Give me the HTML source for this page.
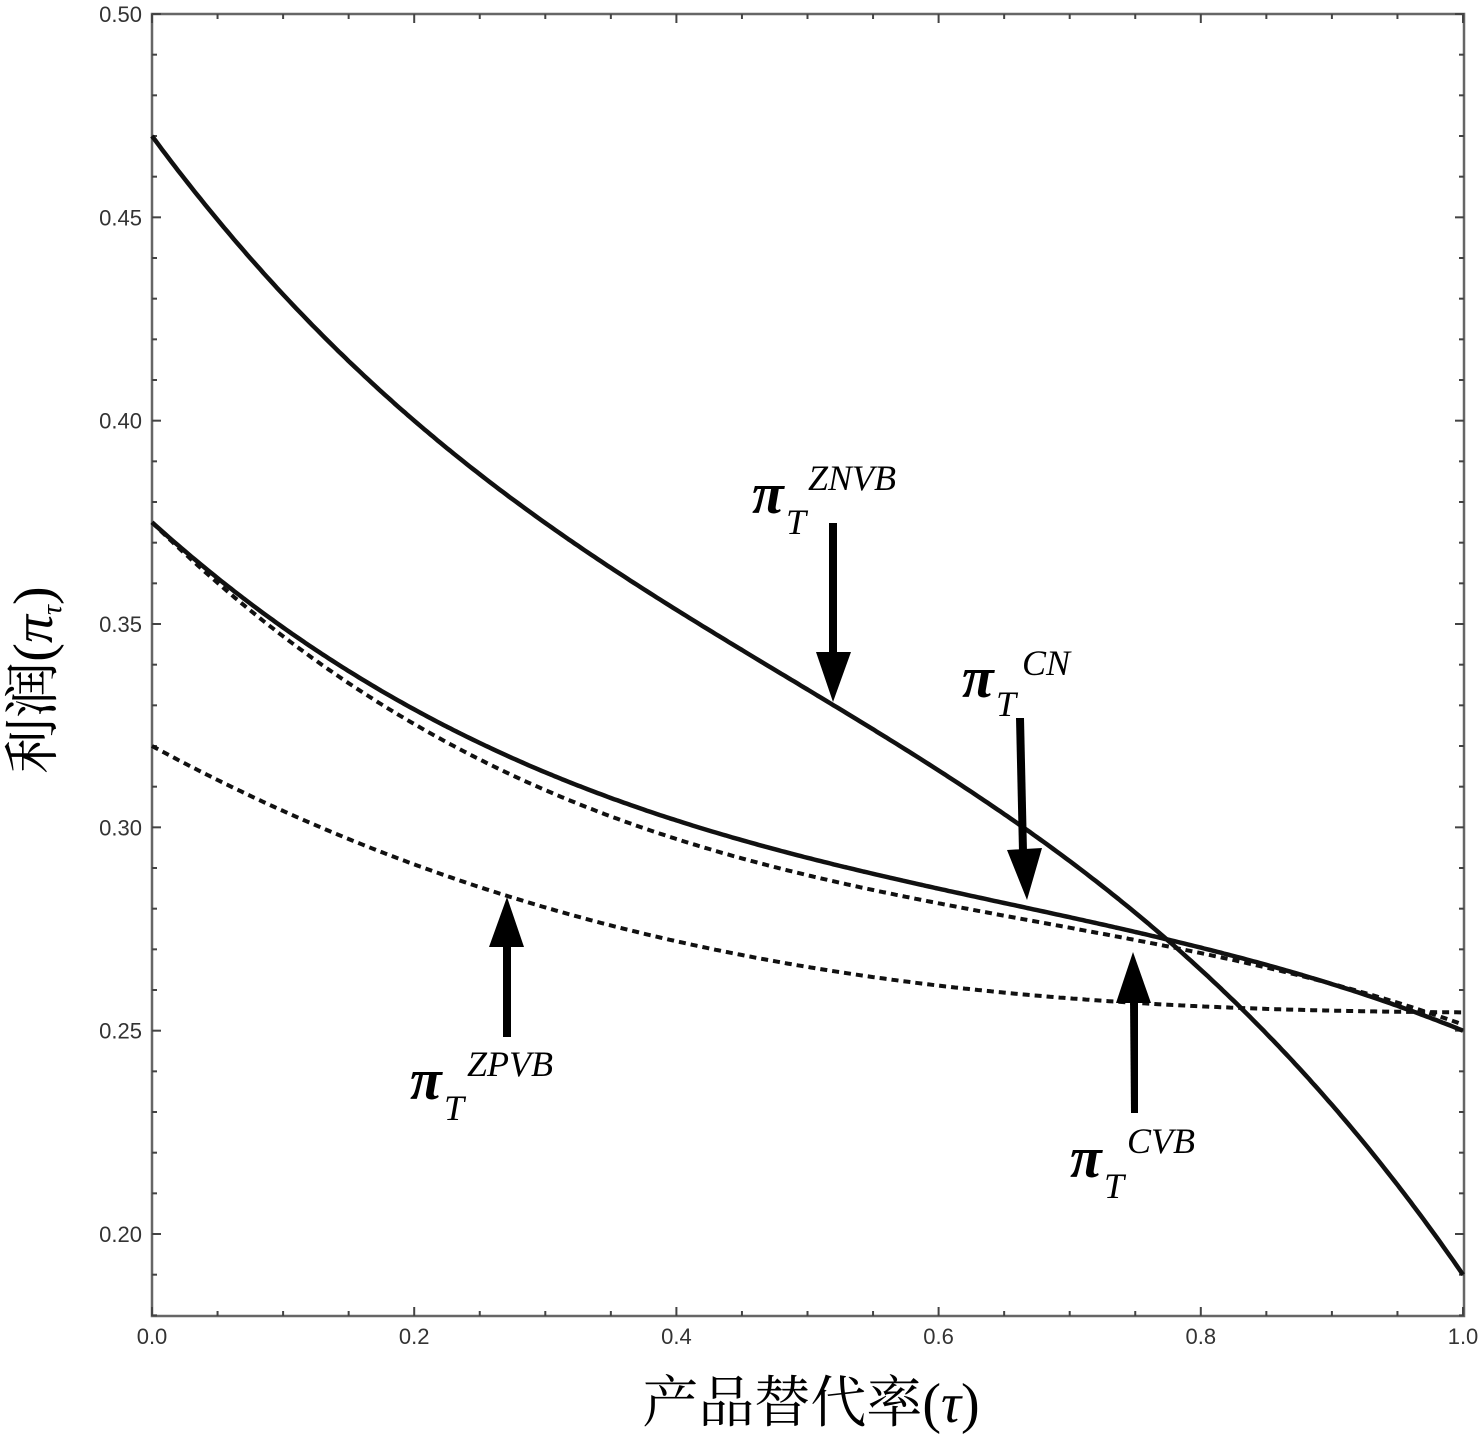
<!DOCTYPE html>
<html><head><meta charset="utf-8"><style>
html,body{margin:0;padding:0;background:#fff;}
svg{display:block;}
.tk{font-family:"Liberation Sans",sans-serif;font-size:22px;fill:#333;}
.lab{font-family:"Liberation Serif",serif;font-style:italic;}
.pi{font-family:"Liberation Serif",serif;font-style:italic;font-weight:bold;}
</style></head><body>
<svg id="s" width="1483" height="1434" xmlns="http://www.w3.org/2000/svg">
<rect x="152" y="14" width="1312" height="1302" fill="none" stroke="#666" stroke-width="2.5"/>
<g id="ticks" stroke="#444"></g>
<g id="tl"></g>
<g id="curves" fill="none" stroke="#111"></g>
<g fill="#000" stroke="none">
<rect x="829" y="523" width="8" height="130"/><polygon points="816,652 851,652 833,702"/>
<polygon points="1016,718 1024,718 1027,852 1019,852"/><polygon points="1007,850 1042,848 1027,900"/>
<rect x="503" y="945" width="8" height="92"/><polygon points="489,947 524,947 507,897"/>
<polygon points="1130,1000 1138,1000 1138,1113 1131,1113"/><polygon points="1116,1003 1151,1003 1133,952"/>
</g>
<g>
<text x="752" y="513" font-size="58" class="pi">π</text>
<text x="786" y="534" font-size="36" class="lab">T</text>
<text x="808" y="490" font-size="36" class="lab">ZNVB</text>
<text x="962" y="697" font-size="58" class="pi">π</text>
<text x="996" y="716" font-size="36" class="lab">T</text>
<text x="1022" y="675" font-size="36" class="lab">CN</text>
<text x="410" y="1099" font-size="58" class="pi">π</text>
<text x="444" y="1120" font-size="36" class="lab">T</text>
<text x="467" y="1076" font-size="36" class="lab">ZPVB</text>
<text x="1070" y="1177" font-size="58" class="pi">π</text>
<text x="1104" y="1198" font-size="36" class="lab">T</text>
<text x="1127" y="1153" font-size="36" class="lab">CVB</text>
</g>
<text x="811" y="1422" text-anchor="middle" font-size="56" font-family="Liberation Serif,'Noto Serif CJK SC',serif">产品替代率(<tspan font-style="italic">τ</tspan>)</text>
<text transform="translate(52,680) rotate(-90)" text-anchor="middle" font-size="56" font-family="Liberation Serif,'Noto Serif CJK SC',serif">利润(<tspan font-style="italic">π</tspan><tspan font-size="28" font-style="italic" dy="9">τ</tspan><tspan dy="-9">)</tspan></text>
</svg>
<script>
var NS="http://www.w3.org/2000/svg";
function X(t){return 152+1311*t;}function Y(v){return 14+(0.5-v)*4066.7;}
function el(p,n,a,txt){var e=document.createElementNS(NS,n);for(var k in a)e.setAttribute(k,a[k]);if(txt)e.textContent=txt;p.appendChild(e);return e;}
var tg=document.getElementById('ticks'),tl=document.getElementById('tl');
for(var i=0;i<=20;i++){var t=i*0.05,x=X(t),maj=i%4==0;
 el(tg,'line',{x1:x,y1:1316,x2:x,y2:1316-(maj?9:5),'stroke-width':2});
 el(tg,'line',{x1:x,y1:14,x2:x,y2:14+(maj?9:5),'stroke-width':2});
 if(maj)el(tl,'text',{x:x,y:1344,'text-anchor':'middle','class':'tk'},t.toFixed(1));}
for(var j=18;j<=50;j++){var v=j/100,y=Y(v),maj=j%5==0;
 el(tg,'line',{x1:152,y1:y,x2:152+(maj?9:5),y2:y,'stroke-width':2});
 el(tg,'line',{x1:1464,y1:y,x2:1464-(maj?9:5),y2:y,'stroke-width':2});
 if(maj)el(tl,'text',{x:142,y:y+8,'text-anchor':'end','class':'tk'},v.toFixed(2));}
function draw(f,dash){var d='';
 for(var i=0;i<=400;i++){var t=i/400;d+=(i?'L':'M')+X(t).toFixed(1)+','+Y(f(t)).toFixed(1);}
 var a={d:d,'stroke-width':dash?4:4.5,'stroke-linejoin':'round'};if(dash)a['stroke-dasharray']='7,5';el(document.getElementById('curves'),'path',a);}
draw(function(t){return 0.47-0.4362*t+0.4997*t*t-0.3435*t*t*t;});
draw(function(t){return 0.375-0.29046*t+0.33648*t*t-0.17102*t*t*t;});
draw(function(t){return 0.375-0.31616*t+0.37783*t*t-0.18517*t*t*t;},true);
draw(function(t){return 0.32-0.1747*t+0.155*t*t-0.0458*t*t*t;},true);
</script>
</body></html>
